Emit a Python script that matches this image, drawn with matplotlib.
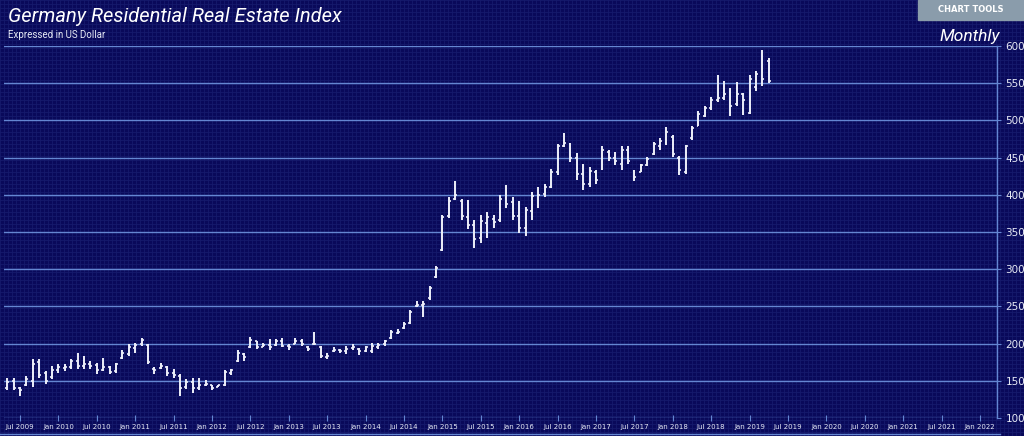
import matplotlib
matplotlib.use("Agg")
import matplotlib.pyplot as plt
import numpy as np

# monthly OHLC, May 2009 .. Apr 2019 (USD)
high = [154, 154, 142, 157, 179, 179, 163, 170, 172, 172, 179, 187, 183, 177, 174, 181, 170, 174, 192, 199,
        201, 208, 199, 168, 174, 170, 166, 159, 152, 154, 154, 151, 145, 145, 165, 166, 192, 187, 209, 204,
        201, 206, 206, 208, 199, 207, 206, 197, 216, 197, 188, 196, 193, 197, 200, 194, 197, 201, 201, 205,
        218, 219, 229, 245, 257, 257, 277, 304, 373, 397, 419, 395, 393, 366, 373, 377, 373, 400, 413, 397,
        391, 384, 404, 411, 415, 435, 468, 483, 469, 456, 442, 437, 433, 466, 460, 458, 465, 465, 433, 442,
        451, 471, 476, 491, 480, 452, 467, 492, 512, 520, 531, 561, 553, 544, 552, 537, 561, 566, 594, 584]
low = [137, 137, 130, 143, 141, 154, 146, 152, 161, 163, 166, 166, 166, 166, 159, 163, 159, 161, 179, 183,
       188, 197, 172, 159, 166, 157, 154, 130, 139, 134, 137, 143, 137, 142, 143, 158, 175, 177, 194, 193,
       195, 192, 197, 195, 192, 199, 197, 190, 198, 181, 179, 189, 187, 186, 191, 185, 189, 187, 193, 197,
       206, 213, 220, 226, 249, 236, 259, 288, 324, 369, 393, 366, 354, 328, 335, 342, 355, 364, 382, 366,
       348, 345, 366, 382, 397, 409, 426, 464, 444, 420, 406, 411, 415, 433, 445, 440, 433, 442, 419, 430,
       439, 454, 460, 467, 451, 427, 428, 474, 492, 504, 514, 525, 528, 506, 520, 507, 508, 540, 546, 550]
open_ = [140, 150, 140, 145, 150, 175, 160, 155, 164, 167, 168, 177, 170, 173, 171, 165, 168, 163, 181, 186,
         194, 199, 198, 166, 167, 168, 160, 157, 141, 148, 140, 145, 145, 142, 145, 160, 176, 186, 196, 203,
         196, 198, 198, 203, 197, 200, 203, 196, 200, 196, 182, 190, 191, 190, 194, 193, 190, 190, 196, 199,
         208, 214, 221, 228, 250, 252, 261, 290, 326, 372, 395, 392, 370, 360, 342, 362, 368, 366, 396, 390,
         372, 356, 378, 398, 401, 411, 430, 466, 468, 450, 428, 415, 430, 435, 458, 450, 442, 460, 432, 431,
         440, 455, 466, 470, 478, 450, 430, 476, 493, 506, 516, 527, 530, 538, 522, 535, 510, 545, 560, 580]
close = [148, 140, 138, 152, 172, 158, 150, 165, 168, 168, 176, 170, 172, 170, 165, 168, 162, 172, 188, 195,
         198, 205, 175, 165, 170, 160, 158, 140, 148, 140, 145, 146, 140, 144, 162, 165, 188, 182, 205, 196,
         198, 196, 204, 197, 196, 204, 199, 193, 199, 184, 184, 192, 190, 193, 196, 190, 195, 197, 198, 204,
         216, 216, 227, 242, 252, 253, 275, 302, 370, 392, 400, 372, 360, 340, 365, 370, 364, 395, 388, 372,
         355, 380, 398, 400, 410, 430, 465, 470, 450, 428, 415, 432, 420, 460, 450, 445, 460, 445, 424, 440,
         448, 468, 472, 485, 455, 433, 465, 490, 508, 516, 528, 530, 535, 520, 535, 528, 555, 562, 556, 553]

# x tick labels every six months starting Jul 2009
tick_labels = []
for yr in range(2009, 2023):
    for mo in ["Jan", "Jul"]:
        tick_labels.append(f"{mo} {yr}")
tick_labels = tick_labels[1:-1]  # Jul 2009 .. Jan 2022
y_ticks = [100, 150, 200, 250, 300, 350, 400, 450, 500, 550, 600]

W, H = 1024, 436
bg = "#09095a"
fine = "#161a6c"
major = "#6486d2"
txt = "#e6e9f5"

fig = plt.figure(figsize=(W / 100, H / 100), dpi=100, facecolor=bg)

# fine background grid over the whole figure
bgax = fig.add_axes([0, 0, 1, 1])
bgax.set_xlim(0, W)
bgax.set_ylim(H, 0)
bgax.set_facecolor(bg)
for v in np.arange(0, W, 4):
    bgax.axvline(v, color=fine, lw=0.6)
for v in np.arange(0, H, 4):
    bgax.axhline(v, color=fine, lw=0.6)
bgax.axis("off")

# main plot area: x from 4px to 997px, y from 46px (600) to 418px (100)
ax = fig.add_axes([4 / W, (H - 418) / H, 993 / W, 372 / H])
ax.patch.set_alpha(0)
x = np.arange(len(high)) - 2  # months since Jul 2009
ax.set_xlim(-2.5, 152.65)
ax.set_ylim(100, 600)

for yv in y_ticks:
    ax.axhline(yv, color=major, lw=1, zorder=1)

bar_col = "#eef0fa"
ax.vlines(x, low, high, color=bar_col, lw=1.4, zorder=3)
ax.hlines(open_, x - 0.3, x, color=bar_col, lw=1.2, zorder=3)
ax.hlines(close, x, x + 0.3, color=bar_col, lw=1.2, zorder=3)

for s in ["top", "left", "bottom"]:
    ax.spines[s].set_visible(False)
ax.spines["right"].set_color(major)
ax.spines["right"].set_linewidth(1)

ax.yaxis.tick_right()
ax.set_yticks(y_ticks)
ax.set_yticklabels([str(v) for v in y_ticks])
ax.tick_params(axis="y", colors=major, labelcolor=txt, labelsize=7.5, length=3, pad=3)

ax.set_xticks(np.arange(len(tick_labels)) * 6)
ax.set_xticklabels(tick_labels)
ax.tick_params(axis="x", colors=major, labelcolor=txt, labelsize=5, length=4, pad=2,
               direction="inout")

# bottom border line under the date labels
bgax.plot([0, 1000], [434, 434], color=major, lw=1)

fig.text(8 / W, 1 - 16 / H, "Germany Residential Real Estate Index", color="white",
         fontsize=14.5, style="italic", family="Roboto", va="center", ha="left")
fig.text(8 / W, 1 - 35 / H, "Expressed in US Dollar", color=txt, fontsize=7,
         family="Roboto", va="center", ha="left")
fig.text(1000 / W, 1 - 37 / H, "Monthly", color="white", fontsize=12.5, style="italic",
         family="Roboto", va="center", ha="right")

# chart tools button
bgax.add_patch(plt.Rectangle((918, 0), 106, 20, color="#8a9cab", zorder=5))
bgax.text(971, 10, "CHART TOOLS", color="white", fontsize=6, fontweight="bold",
          ha="center", va="center", zorder=6)

fig.savefig("out.png", dpi=100, facecolor=bg)
